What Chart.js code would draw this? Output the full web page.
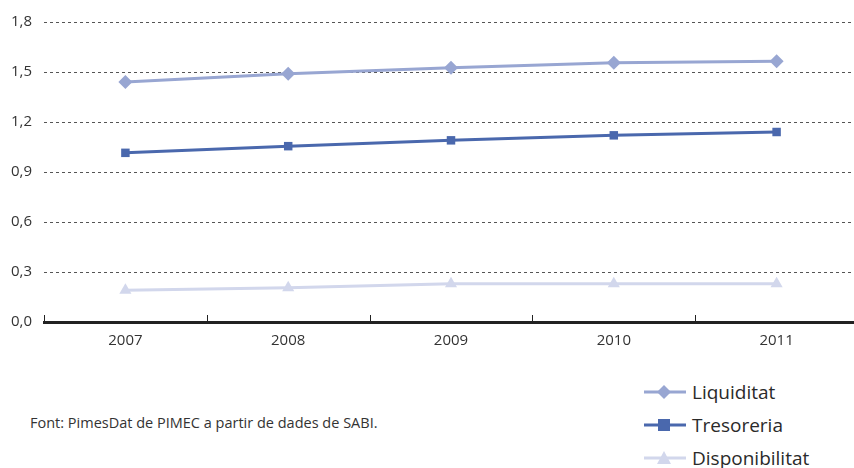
<!DOCTYPE html>
<html>
<head>
<meta charset="utf-8">
<script src="https://cdn.jsdelivr.net/npm/chart.js@4/dist/chart.umd.min.js"></script>
<style>
    body { margin: 0; background: #fff; font-family: "Open Sans", sans-serif; }
    #wrap { position: relative; width: 854px; height: 468px; overflow: hidden; }
    #chart { position: absolute; left: 0; top: 0; }
    .note { position: absolute; left: 30px; top: 413px; font-size: 14.5px; color: #333; }
    .legend { position: absolute; left: 644px; top: 375px; }
    .legend div { height: 33px; display: flex; align-items: center; font-size: 19px; color: #2a2a2a; }
    .legend svg { margin-right: 6px; }
</style>
</head>
<body>
<div id="wrap">
    <canvas id="chart" width="865" height="355"></canvas>
    <div class="note">Font: PimesDat de PIMEC a partir de dades de SABI.</div>
    <div class="legend" id="legend"></div>
</div>
<script>
// Ratios de liquiditat 2007-2011

const years = ['2007', '2008', '2009', '2010', '2011'];
const liquiditat = [1.44, 1.49, 1.525, 1.555, 1.565];
const tresoreria = [1.015, 1.055, 1.09, 1.12, 1.14];
const disponibilitat = [0.19, 0.205, 0.23, 0.23, 0.23];

const series = [
    { label: 'Liquiditat', data: liquiditat, color: '#98a6d2', style: 'rectRot', radius: 7 },
    { label: 'Tresoreria', data: tresoreria, color: '#4a68ad', style: 'rect', radius: 6 },
    { label: 'Disponibilitat', data: disponibilitat, color: '#d2d7ec', style: 'triangle', radius: 7 }
];

// small upward ticks on the category axis, between categories
const axisTicks = {
    id: 'axisTicks',
    afterDraw(chart) {
        const x = chart.scales.x;
        const ctx = chart.ctx;
        const n = years.length;
        ctx.save();
        ctx.strokeStyle = '#222';
        ctx.lineWidth = 1;
        for (let i = 0; i <= n; i++) {
            const px = Math.round(x.left + i * (x.width / n)) + 0.5;
            ctx.beginPath();
            ctx.moveTo(px, x.top - 7);
            ctx.lineTo(px, x.top);
            ctx.stroke();
        }
        ctx.restore();
    }
};

new Chart(document.getElementById('chart'), {
    type: 'line',
    data: {
        labels: years,
        datasets: series.map(s => ({
            label: s.label,
            data: s.data,
            borderColor: s.color,
            backgroundColor: s.color,
            borderWidth: 3,
            pointStyle: s.style,
            pointRadius: s.radius,
            pointHoverRadius: s.radius,
            pointBorderWidth: 0,
            tension: 0
        }))
    },
    options: {
        responsive: false,
        animation: false,
        layout: { padding: { top: 22, right: 0, bottom: 0, left: 0 } },
        plugins: {
            legend: { display: false },
            tooltip: { enabled: false }
        },
        scales: {
            x: {
                offset: true,
                grid: { display: false, drawTicks: false },
                border: { display: true, color: '#222', width: 3 },
                ticks: {
                    padding: 10,
                    color: '#333',
                    font: { family: 'Open Sans', size: 15 }
                },
                afterFit: (scale) => { scale.height = 33; }
            },
            y: {
                min: 0,
                max: 1.8,
                ticks: {
                    stepSize: 0.3,
                    padding: 12,
                    color: '#333',
                    font: { family: 'Open Sans', size: 15 },
                    callback: (v) => v.toFixed(1).replace('.', ',')
                },
                grid: { color: '#555', lineWidth: 1, drawTicks: false },
                border: { display: false, dash: [3, 3] },
                afterFit: (scale) => { scale.width = 44; }
            }
        }
    },
    plugins: [axisTicks]
});

// legend
const legendEl = document.getElementById('legend');
const markers = {
    rectRot: (c) => `<polygon points="20,1 27,8 20,15 13,8" fill="${c}"/>`,
    rect: (c) => `<rect x="14" y="2" width="12" height="12" fill="${c}"/>`,
    triangle: (c) => `<polygon points="20,1 27,14 13,14" fill="${c}"/>`
};
series.forEach(s => {
    const row = document.createElement('div');
    row.innerHTML = `<svg width="42" height="16"><line x1="0" y1="8" x2="42" y2="8" stroke="${s.color}" stroke-width="3"/>${markers[s.style](s.color)}</svg>${s.label}`;
    legendEl.appendChild(row);
});
</script>
</body>
</html>
